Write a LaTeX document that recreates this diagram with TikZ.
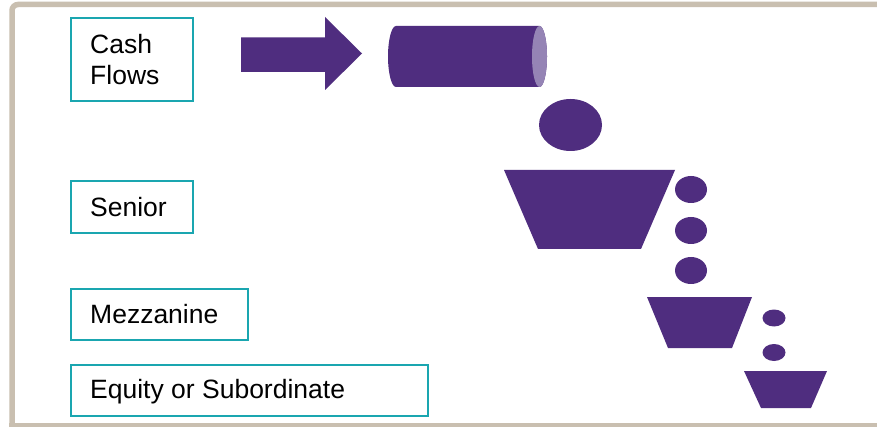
\documentclass[tikz,border=0pt]{standalone}
\usepackage{fontspec}
\setmainfont{Liberation Sans}
\definecolor{framec}{HTML}{C9BFB0}
\definecolor{purp}{HTML}{4F2D7F}
\definecolor{lpurp}{HTML}{9584B5}
\definecolor{tealc}{HTML}{1AA6B0}
\begin{document}
\begin{tikzpicture}[x=1pt,y=-1pt,
  box/.style={draw=tealc,line width=1.8pt,anchor=north west,inner sep=0pt,fill=white},
  lbl/.style={anchor=base west,inner sep=0pt,font=\fontsize{26.5}{31}\selectfont},
  shp/.style={fill=purp,draw=none}]
\useasboundingbox (0,0) rectangle (877,427);
\clip (0,0) rectangle (877,427);
\fill[white] (0,0) rectangle (877,427);
% frame
\draw[framec,line width=5.5pt,rounded corners=6pt] (12,430) -- (12,4.5) -- (900,4.5);
\draw[framec,line width=5.5pt] (9,426) -- (900,426);
% label boxes
\node[box,minimum width=122pt,minimum height=83pt] (cfbox) at (70,17) {};
\node[box,minimum width=122pt,minimum height=52pt] (senbox) at (70,180) {};
\node[box,minimum width=177pt,minimum height=51pt] (mezbox) at (70,288) {};
\node[box,minimum width=357pt,minimum height=51pt] (eqbox) at (70,364) {};
\node[lbl] (cash) at (90,53.5) {Cash};
\node[lbl] (flows) at (90,84.5) {Flows};
\node[lbl] (sen) at (90,216.5) {Senior};
\node[lbl] (mez) at (90,323.5) {Mezzanine};
\node[lbl] (eq) at (90,398.5) {Equity or Subordinate};
% arrow
\fill[shp] (241,37.5) -- (325,37.5) -- (325,17) -- (362,53.5) -- (325,90) -- (325,72) -- (241,72) -- cycle;
% cylinder
\fill[shp] (539.5,26) -- (396,26) arc[start angle=270,end angle=90,x radius=8,y radius=30.5]
  -- (539.5,87) arc[start angle=90,end angle=-90,x radius=7.5,y radius=30.5] -- cycle;
\fill[lpurp] (539.5,56.5) ellipse[x radius=7.5,y radius=30.5];
% drops and buckets
\fill[shp] (570.5,125) ellipse[x radius=31.5,y radius=26];
\fill[shp] (504,170) -- (675,170) -- (641,249) -- (538,249) -- cycle;
\fill[shp] (691,189.5) ellipse[x radius=16,y radius=13.5];
\fill[shp] (691,230.5) ellipse[x radius=16,y radius=13.5];
\fill[shp] (691,270.5) ellipse[x radius=16,y radius=13.5];
\fill[shp] (647,297) -- (752,297) -- (732,348) -- (668,348) -- cycle;
\fill[shp] (774,318) ellipse[x radius=11.5,y radius=8.5];
\fill[shp] (774,352.5) ellipse[x radius=11.5,y radius=8.5];
\fill[shp] (744,371) -- (827,371) -- (811,408) -- (761,408) -- cycle;
\end{tikzpicture}
\end{document}
